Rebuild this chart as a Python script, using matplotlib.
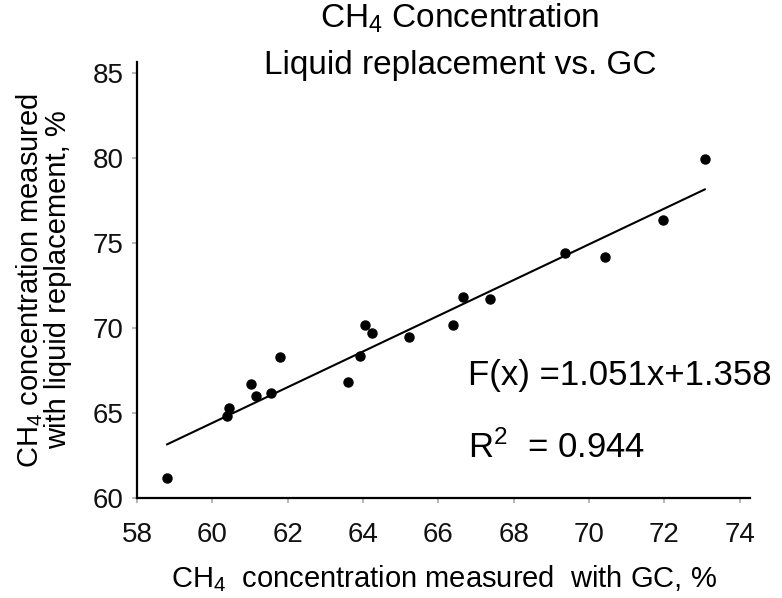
import matplotlib
matplotlib.use("Agg")
import matplotlib.pyplot as plt
import numpy as np

plt.rcParams['font.family'] = ['Liberation Sans', 'DejaVu Sans']
plt.rcParams['mathtext.fontset'] = 'custom'
plt.rcParams['mathtext.rm'] = 'Liberation Sans'
plt.rcParams['mathtext.it'] = 'Liberation Sans:italic'
plt.rcParams['mathtext.bf'] = 'Liberation Sans:bold'
plt.rcParams['mathtext.default'] = 'rm'

# Data (CH4 %, GC vs liquid replacement)
gc_values = [58.8, 60.4, 60.45, 61.02, 61.17, 61.55, 61.8, 63.6, 63.92, 64.05,
             64.24, 65.22, 66.39, 66.65, 67.36, 69.37, 70.43, 71.96, 73.07]
lr_values = [61.2, 64.8, 65.3, 66.7, 66.0, 66.2, 68.3, 66.85, 68.35, 70.2,
             69.7, 69.5, 70.15, 71.8, 71.7, 74.4, 74.2, 76.35, 79.95]
fit_slope = 1.051
fit_intercept = 1.358
r_squared = 0.944
x_ticks = [58, 60, 62, 64, 66, 68, 70, 72, 74]
y_ticks = [60, 65, 70, 75, 80, 85]

W, H = 782, 598
fig = plt.figure(figsize=(W / 100, H / 100), dpi=100)
ax = fig.add_axes([137 / W, 1 - 498 / H, (750 - 137) / W, (498 - 62) / H])

ax.plot(gc_values, lr_values, 'o', color='black', markersize=6.5, zorder=3)
xs = np.array([min(gc_values), max(gc_values)])
ax.plot(xs, fit_slope * xs + fit_intercept, '-', color='black', linewidth=1.5, zorder=2)

ax.set_xlim(58, 74.27)
ax.set_ylim(60, 85.65)
ax.set_xticks(x_ticks)
ax.set_yticks(y_ticks)
ax.set_xticklabels([str(t) for t in x_ticks])
ax.set_yticklabels([str(t) for t in y_ticks])

for s in ['top', 'right']:
    ax.spines[s].set_visible(False)
for s in ['left', 'bottom']:
    ax.spines[s].set_linewidth(1.6)
    ax.spines[s].set_color('black')

ax.tick_params(axis='both', which='major', direction='out', length=3.5,
               width=1.2, color='#aaaaaa', labelsize=20, labelcolor='#111111')
ax.tick_params(axis='x', pad=14)
ax.tick_params(axis='y', pad=6)

ax.set_xlabel('CH$_4$  concentration measured  with GC, %', fontsize=21, labelpad=11)
ax.set_ylabel('CH$_4$ concentration measured\nwith liquid replacement, %', fontsize=21,
              labelpad=15, linespacing=0.95)

fig.text(460 / W, 1 - 28 / H, 'CH$_4$ Concentration', fontsize=24,
         ha='center', va='baseline')
fig.text(460 / W, 1 - 74 / H, 'Liquid replacement vs. GC', fontsize=24,
         ha='center', va='baseline')

ax.text(0.54, (498 - 385) / 436, f'F(x) ={fit_slope}x+{fit_intercept}',
        transform=ax.transAxes, fontsize=25, ha='left', va='baseline')
ax.text(0.54, (498 - 458) / 436, f'R$^2$  = {r_squared}',
        transform=ax.transAxes, fontsize=25, ha='left', va='baseline')

fig.savefig('out.png', dpi=100)
